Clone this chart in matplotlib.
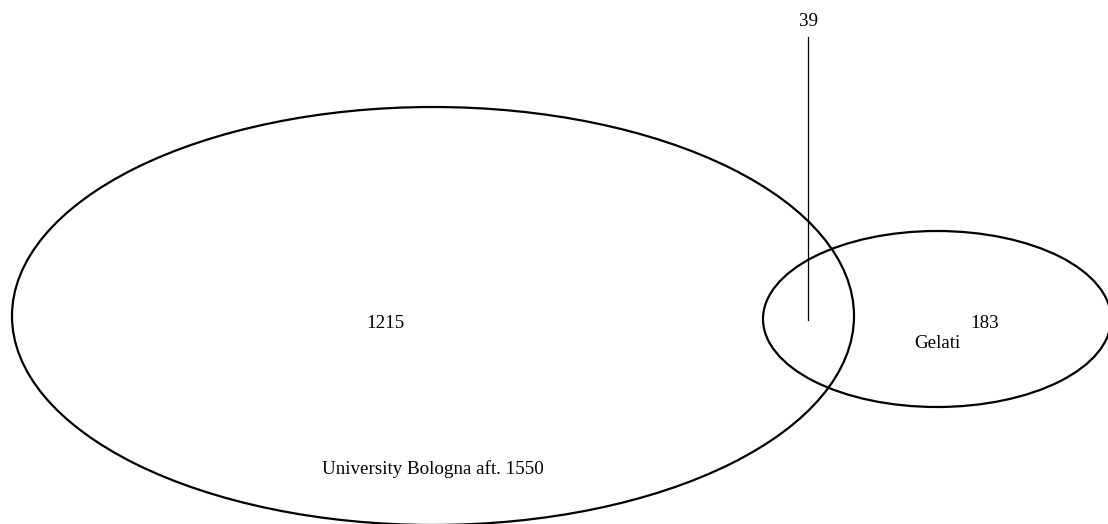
import matplotlib
matplotlib.use("Agg")
import matplotlib.pyplot as plt
from matplotlib.patches import Ellipse

set_labels = ["University Bologna aft. 1550", "Gelati"]
region_counts = {"10": 1215, "01": 183, "11": 39}

plt.rcParams['font.family'] = ['Liberation Serif', 'DejaVu Serif']

fig = plt.figure(figsize=(11.08, 5.24), dpi=100)
ax = fig.add_axes([0, 0, 1, 1])
ax.set_xlim(0, 1108)
ax.set_ylim(524, 0)
ax.axis('off')

ax.add_patch(Ellipse((433, 316), 842, 418, fill=False, ec='black', lw=1.6))
ax.add_patch(Ellipse((937, 319), 348, 176, fill=False, ec='black', lw=1.6))

fs = 13.7
ax.text(385, 323, str(region_counts["10"]), ha='center', va='center', fontsize=fs)
ax.text(985, 323, str(region_counts["01"]), ha='center', va='center', fontsize=fs)
ax.plot([808, 808], [37, 320], color='black', lw=0.9)
ax.text(808, 21, str(region_counts["11"]), ha='center', va='center', fontsize=fs)
ax.text(433, 469, set_labels[0], ha='center', va='center', fontsize=fs)
ax.text(937, 344, set_labels[1], ha='center', va='center', fontsize=fs)

fig.savefig("out.png", dpi=100)
